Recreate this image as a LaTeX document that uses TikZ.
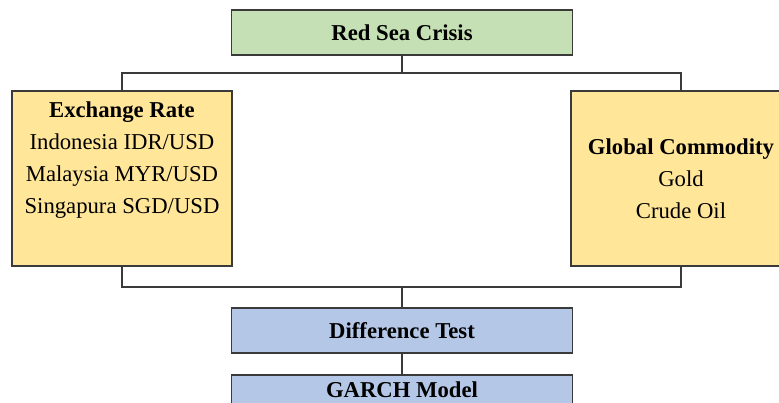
\documentclass[tikz,border=0pt]{standalone}
\usepackage{fontspec}
\setmainfont{Liberation Serif}
\definecolor{boxgreen}{HTML}{C5E0B4}
\definecolor{boxyellow}{HTML}{FFE699}
\definecolor{boxblue}{HTML}{B4C7E7}
\definecolor{linegray}{HTML}{3A3A3A}
\begin{document}
\begin{tikzpicture}[x=1pt,y=-1pt,
  box/.style={draw=linegray,line width=1.4pt,rectangle,inner sep=0pt,align=center,
    font=\fontsize{22.7}{32}\selectfont,text=black},
  wide/.style={box,minimum width=341pt,minimum height=45pt},
  side/.style={box,fill=boxyellow,minimum width=220pt,minimum height=175pt},
  conn/.style={draw=linegray,line width=1.4pt}]
\useasboundingbox (0,0) rectangle (779,403);
\clip (0,0) rectangle (779,403);
\node[wide,fill=boxgreen] (red) at (402,32.5) {\textbf{Red Sea Crisis}};
\node[side] (exch) at (122,178.5) {\textbf{Exchange Rate}\\Indonesia IDR/USD\\Malaysia MYR/USD\\Singapura SGD/USD\\\strut};
\node[side] (glob) at (681,178.5) {\textbf{Global Commodity}\\Gold\\Crude Oil};
\node[wide,fill=boxblue] (diff) at (402,330.5) {\textbf{Difference Test}};
\node[box,fill=boxblue,minimum width=341pt,minimum height=29pt] (garch) at (402,389.5) {\textbf{GARCH Model}};
\coordinate (bt) at (402,73);
\coordinate (bb) at (402,287);
\draw[conn] (red.south) -- (bt);
\draw[conn] (exch.north) |- (bt) -| (glob.north);
\draw[conn] (exch.south) |- (bb) -| (glob.south);
\draw[conn] (bb) -- (diff.north);
\draw[conn] (diff.south) -- (garch.north);
\end{tikzpicture}
\end{document}
